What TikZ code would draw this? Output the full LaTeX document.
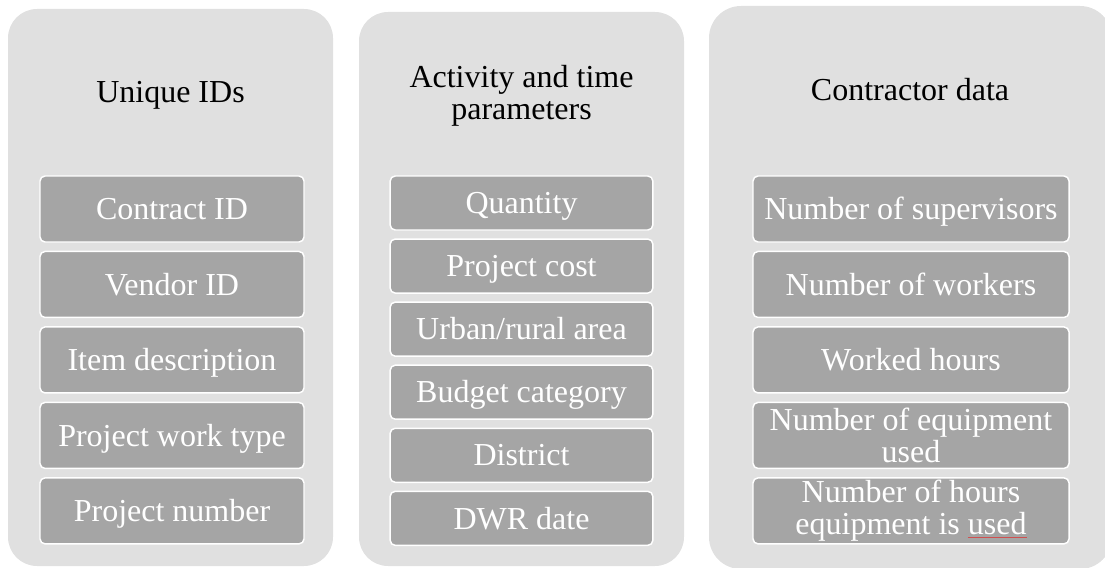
\documentclass[tikz,border=0pt]{standalone}
\usepackage{fontspec}
\setmainfont{Liberation Serif}
\usetikzlibrary{positioning}
\definecolor{panelgray}{HTML}{E0E0E0}
\definecolor{itemgray}{HTML}{A5A5A5}
\definecolor{spellred}{HTML}{D05050}

\begin{document}
\begin{tikzpicture}[x=0.75pt,y=-0.75pt,
    panel/.style={fill=panelgray,rounded corners=21.75pt},
    heading/.style={font=\fontsize{24}{24}\selectfont,align=center,text=black,inner sep=0pt},
    item/.style={draw=white,line width=1.1pt,fill=itemgray,rounded corners=3.75pt,
      text=white,font=\fontsize{24}{24}\selectfont,align=center,inner sep=0pt},
    oneline/.style={text height=16pt,text depth=0pt},
    tall/.style={minimum width=198pt,minimum height=49.5pt},
    short/.style={minimum width=197pt,minimum height=40.5pt},
    wide/.style={minimum width=237pt,minimum height=49.5pt},
    node distance=6pt]
      \clip (0,0) rectangle (1105,567);

      % the three columns
      \fill[panel] (8,9) rectangle (333,566);
      \fill[panel] (359,12) rectangle (684,566);
      \fill[panel,rounded corners=24pt] (709,6) rectangle (1112,569);

      \node[heading,anchor=base] (ids) at (170.5,102) {Unique IDs};
      \node[heading] (activity) at (521.5,96) {Activity and time\\parameters};
      \node[heading,anchor=base] (contractor) at (910,100) {Contractor data};

      % Unique IDs
      \node[item,oneline,tall] (contract) at (172,209) {Contract ID};
      \node[item,oneline,tall,below=of contract] (vendor) {Vendor ID};
      \node[item,oneline,tall,below=of vendor] (itemdesc) {Item description};
      \node[item,oneline,tall,below=of itemdesc] (worktype) {Project work type};
      \node[item,oneline,tall,below=of worktype] (projnum) {Project number};

      % Activity and time parameters
      \node[item,oneline,short] (quantity) at (521.5,203) {Quantity};
      \node[item,oneline,short,below=5.7pt of quantity] (cost) {Project cost};
      \node[item,oneline,short,below=5.7pt of cost] (area) {Urban/rural area};
      \node[item,oneline,short,below=5.7pt of area] (budget) {Budget category};
      \node[item,oneline,short,below=5.7pt of budget] (district) {District};
      \node[item,oneline,short,below=5.7pt of district] (dwr) {DWR date};

      % Contractor data
      \node[item,oneline,wide] (supervisors) at (911,209) {Number of supervisors};
      \node[item,oneline,wide,below=of supervisors] (workers) {Number of workers};
      \node[item,oneline,wide,below=of workers] (hours) {Worked hours};
      \node[item,wide,below=of hours] (equipment) {Number of equipment\\used};
      \node[item,wide,below=of equipment] (equiphours)
        {Number of hours\\equipment is \setbox0\hbox{used}\rlap{\color{spellred}\rule[-2.5pt]{\wd0}{0.6pt}}used};
    \end{tikzpicture}
\end{document}
